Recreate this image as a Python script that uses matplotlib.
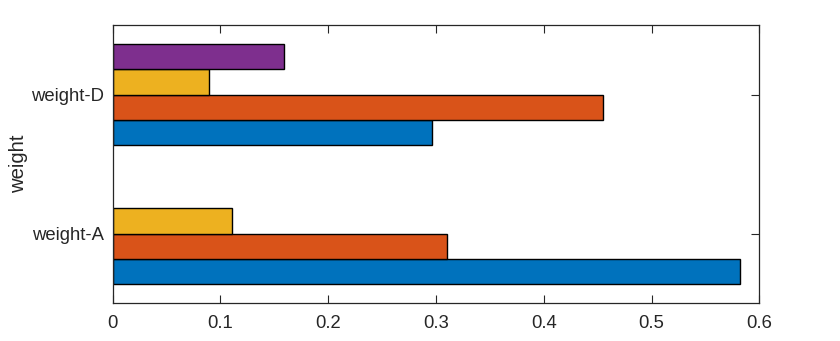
import matplotlib.pyplot as plt
import numpy as np

plt.rcParams['font.family'] = ['Liberation Sans', 'DejaVu Sans']

# grouped weights, one row per category, one column per series
categories = ['weight-A', 'weight-D']
series_1 = [0.582, 0.2966]
series_2 = [0.310, 0.455]
series_3 = [0.1105, 0.0897]
series_4 = [0.0, 0.159]

colors = ['#0072BD', '#D95319', '#EDB120', '#7E2F8E']
axis_color = '#262626'

data = np.array([series_1, series_2, series_3, series_4])
n_series = data.shape[0]
y = np.arange(1, len(categories) + 1)

# MATLAB-style grouped barh spacing
group_width = min(0.8, n_series / (n_series + 1.5))
bar_h = group_width / n_series

fig = plt.figure(figsize=(8.4, 3.41), dpi=100)
ax = fig.add_axes([0.134, 0.1106, 0.770, 0.8161])

for i in range(n_series):
    offset = (i - (n_series - 1) / 2) * bar_h
    # zero-length bars get no outline
    lw = [1.0 if v > 0 else 0.0 for v in data[i]]
    ax.barh(y + offset, data[i], height=bar_h, color=colors[i],
            edgecolor='black', linewidth=lw, zorder=2)

ax.set_xlim(0, 0.6)
ax.set_ylim(0.5, 2.5)
ax.set_xticks(np.arange(0, 0.61, 0.1))
ax.set_xticklabels(['0', '0.1', '0.2', '0.3', '0.4', '0.5', '0.6'])
ax.set_yticks(y)
ax.set_yticklabels(categories)
ax.set_ylabel('weight', fontsize=14.6, color=axis_color, labelpad=2.5)

ax.tick_params(direction='in', length=6, width=0.8, colors=axis_color,
               labelsize=13.3, top=True, right=True, pad=6)
ax.tick_params(axis='x', pad=8.5)
for side in ax.spines.values():
    side.set_color(axis_color)
    side.set_linewidth(0.9)
    side.set_zorder(3)

fig.savefig('out.png', dpi=100)
